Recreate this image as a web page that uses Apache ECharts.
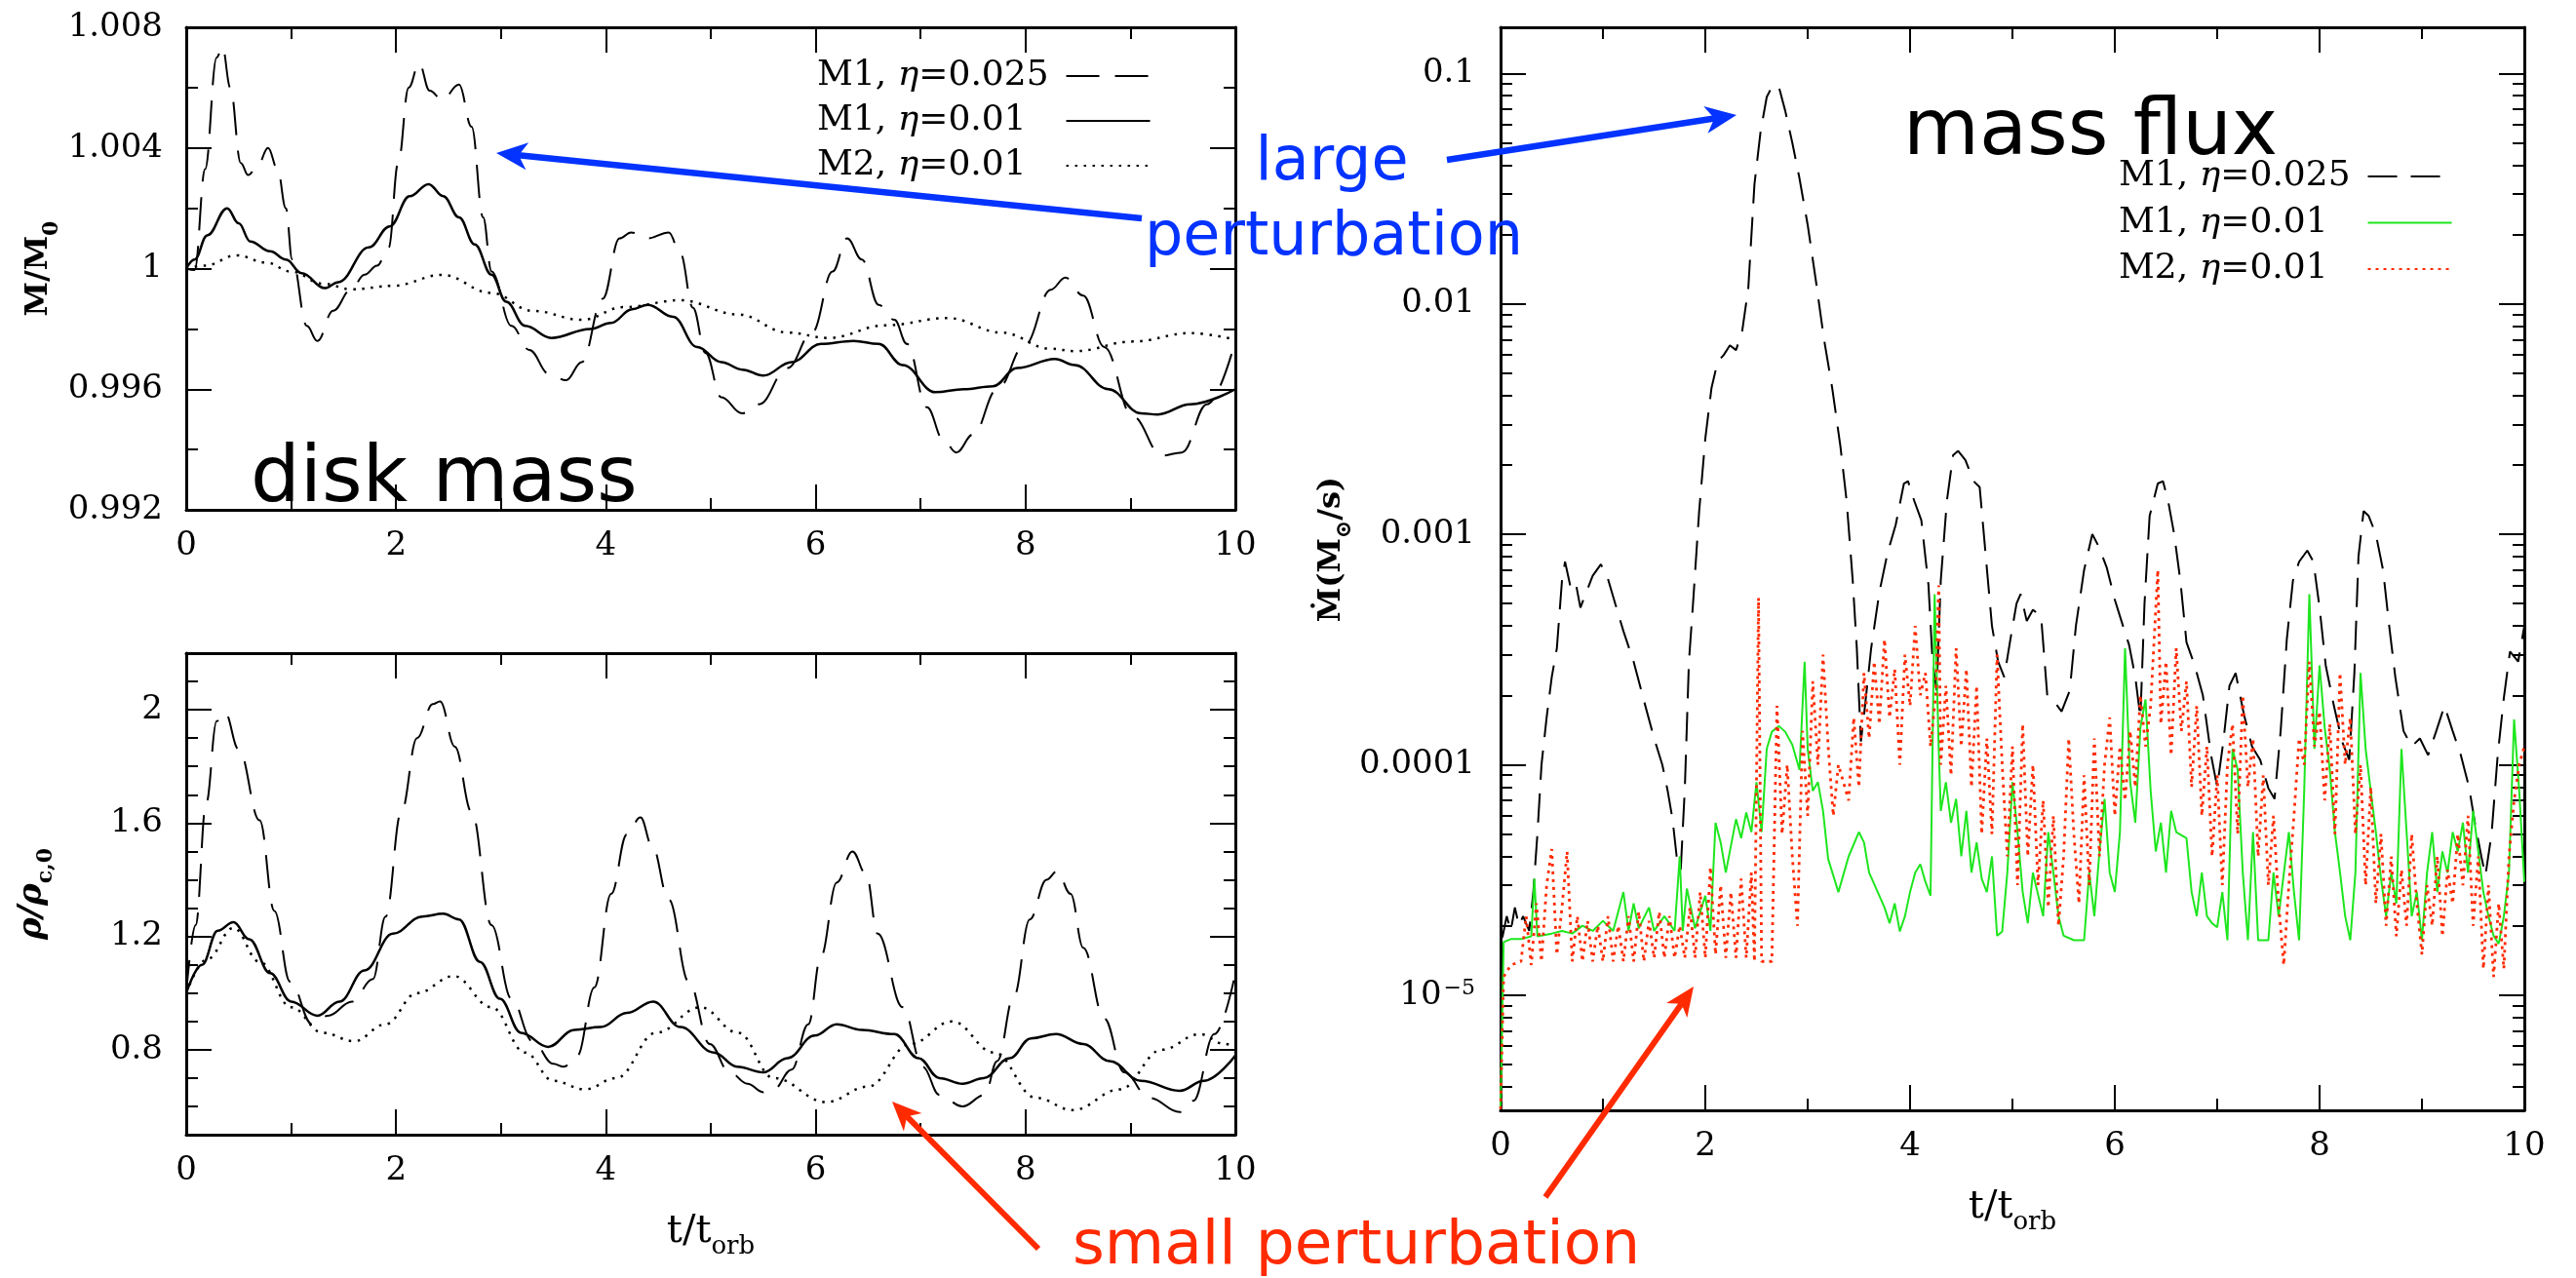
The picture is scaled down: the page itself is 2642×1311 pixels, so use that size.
<!DOCTYPE html>
<html>
<head>
<meta charset="utf-8">
<script src="https://cdn.jsdelivr.net/npm/echarts@6/dist/echarts.min.js"></script>
<style>
  html, body { margin: 0; padding: 0; background: #fff; }
  #chart { width: 2642px; height: 1311px; }
</style>
</head>
<body>
<div id="chart"></div>
<script>
// ---- tick positions and labels ----
const timeTickVals = [0, 2, 4, 6, 8, 10];
const timeTickLabels = ['0', '2', '4', '6', '8', '10'];
const massTickVals = [0.992, 0.996, 1, 1.004, 1.008];
const massTickLabels = ['0.992', '0.996', '1', '1.004', '1.008'];
const rhoTickVals = [0.8, 1.2, 1.6, 2];
const rhoTickLabels = ['0.8', '1.2', '1.6', '2'];
const fluxTickVals = [1e-5, 1e-4, 1e-3, 1e-2, 1e-1];
const fluxTickLabels = ['{m|10}{sup|\u22125}', '0.0001', '0.001', '0.01', '0.1'];
const fluxMinorVals = [4e-6, 5e-6, 6e-6, 7e-6, 8e-6, 9e-6,
  2e-5, 3e-5, 4e-5, 5e-5, 6e-5, 7e-5, 8e-5, 9e-5,
  2e-4, 3e-4, 4e-4, 5e-4, 6e-4, 7e-4, 8e-4, 9e-4,
  2e-3, 3e-3, 4e-3, 5e-3, 6e-3, 7e-3, 8e-3, 9e-3,
  2e-2, 3e-2, 4e-2, 5e-2, 6e-2, 7e-2, 8e-2, 9e-2];
const legendLabels = ['M1, \u03b7=0.025', 'M1, \u03b7=0.01', 'M2, \u03b7=0.01'];

// ---- disk mass M/M0 vs t/t_orb ----
const massM1a = [[0,1.0000],[0.08,0.99995],[0.18,1.0033],[0.29,1.0070],[0.345,1.00735],[0.42,1.0060],[0.52,1.0035],[0.59,1.0031],[0.68,1.0034],[0.78,1.0040],[0.87,1.0033],[0.95,1.0020],[1.01,1.0003],[1.15,0.9981],[1.25,0.9976],[1.4,0.9986],[1.57,0.9993],[1.7,0.9998],[1.82,1.0001],[1.93,1.0007],[2.02,1.0035],[2.12,1.0060],[2.22,1.0068],[2.32,1.0059],[2.44,1.0056],[2.6,1.0061],[2.72,1.0047],[2.83,1.0017],[2.91,0.9999],[3.1,0.9981],[3.27,0.9973],[3.46,0.9965],[3.62,0.9963],[3.77,0.9969],[3.97,0.9990],[4.13,1.0010],[4.24,1.0012],[4.4,1.0010],[4.6,1.0012],[4.71,1.0005],[4.83,0.9987],[4.95,0.9972],[5.1,0.99573],[5.3,0.9952],[5.46,0.9955],[5.73,0.9967],[5.97,0.9979],[6.16,0.9999],[6.3,1.0010],[6.44,1.0003],[6.6,0.9988],[6.75,0.9983],[6.87,0.9975],[7.06,0.9954],[7.22,0.9943],[7.34,0.9939],[7.5,0.9945],[7.73,0.9960],[8.0,0.9975],[8.24,0.9993],[8.38,0.9997],[8.55,0.9991],[8.75,0.9974],[9.02,0.9951],[9.3,0.9938],[9.49,0.9939],[9.73,0.9955],[10,0.9976]];
const massM1b = [[0,1.0000],[0.08,1.0003],[0.2,1.0011],[0.39,1.0020],[0.5,1.0015],[0.61,1.0009],[0.8,1.00057],[0.95,1.0003],[1.1,0.99985],[1.32,0.99935],[1.45,0.99955],[1.74,1.0007],[1.94,1.0014],[2.13,1.0024],[2.31,1.0028],[2.45,1.0024],[2.6,1.0017],[2.75,1.0008],[2.91,0.9998],[3.05,0.9989],[3.23,0.9981],[3.48,0.9977],[3.85,0.9980],[4.05,0.9982],[4.25,0.99865],[4.4,0.9988],[4.64,0.9984],[4.87,0.9974],[5.1,0.9969],[5.3,0.99665],[5.5,0.99645],[5.77,0.9969],[6.05,0.9975],[6.36,0.9976],[6.6,0.9975],[6.83,0.9968],[7.14,0.9959],[7.41,0.9960],[7.69,0.9961],[7.92,0.9967],[8.28,0.9970],[8.47,0.9968],[8.79,0.9960],[9.1,0.9952],[9.26,0.99516],[9.57,0.9955],[10,0.9960]];
const massM2 = [[0,1.0000],[0.18,1.0001],[0.48,1.00044],[0.76,1.0002],[1.0,0.9999],[1.3,0.9995],[1.58,0.99931],[1.97,0.99943],[2.44,0.99979],[2.91,0.99919],[3.3,0.9986],[3.77,0.9983],[4.17,0.99872],[4.71,0.99895],[5.26,0.99848],[5.73,0.99788],[6.12,0.9977],[6.67,0.99812],[7.26,0.99836],[7.77,0.99788],[8.24,0.99734],[8.47,0.99726],[9.02,0.99758],[9.57,0.99786],[10,0.99764]];

// ---- central density rho/rho_c,0 vs t/t_orb ----
const rhoM1a = [[0,1.0],[0.09,1.24],[0.19,1.67],[0.29,1.96],[0.37,1.99],[0.5,1.86],[0.7,1.61],[0.84,1.29],[0.99,1.04],[1.2,0.89],[1.35,0.92],[1.58,0.97],[1.78,1.05],[1.9,1.27],[2.05,1.64],[2.2,1.9],[2.35,2.02],[2.42,2.03],[2.56,1.87],[2.72,1.64],[2.91,1.24],[3.1,0.98],[3.3,0.83],[3.5,0.75],[3.6,0.74],[3.73,0.78],[3.89,1.02],[4.05,1.35],[4.2,1.56],[4.33,1.62],[4.44,1.52],[4.6,1.33],[4.79,1.04],[4.99,0.82],[5.18,0.72],[5.35,0.68],[5.5,0.65],[5.6,0.66],[5.77,0.73],[5.93,0.89],[6.05,1.13],[6.2,1.39],[6.35,1.5],[6.48,1.42],[6.59,1.21],[6.83,0.95],[7.02,0.74],[7.18,0.64],[7.4,0.6],[7.61,0.64],[7.73,0.76],[7.89,0.99],[8.04,1.26],[8.2,1.4],[8.3,1.43],[8.43,1.35],[8.55,1.16],[8.75,0.91],[8.94,0.72],[9.18,0.63],[9.47,0.58],[9.6,0.62],[9.8,0.855],[10,1.07]];
const rhoM1b = [[0,1.0],[0.15,1.1],[0.3,1.22],[0.45,1.25],[0.6,1.19],[0.8,1.07],[1.0,0.97],[1.25,0.92],[1.46,0.97],[1.7,1.08],[1.97,1.21],[2.25,1.27],[2.45,1.28],[2.6,1.26],[2.8,1.11],[2.99,0.98],[3.19,0.86],[3.45,0.81],[3.7,0.87],[3.95,0.88],[4.2,0.93],[4.45,0.97],[4.71,0.88],[5.03,0.79],[5.25,0.74],[5.5,0.72],[5.73,0.77],[5.99,0.85],[6.2,0.89],[6.44,0.87],[6.75,0.855],[6.98,0.77],[7.18,0.7],[7.4,0.68],[7.6,0.7],[7.85,0.77],[8.05,0.84],[8.29,0.855],[8.55,0.82],[8.8,0.76],[9.1,0.69],[9.47,0.655],[9.7,0.69],[10,0.78]];
const rhoM2 = [[0,1.0],[0.2,1.12],[0.45,1.23],[0.7,1.11],[1.0,0.95],[1.3,0.86],[1.6,0.83],[1.9,0.89],[2.2,1.0],[2.55,1.06],[2.91,0.95],[3.23,0.79],[3.5,0.69],[3.8,0.66],[4.1,0.7],[4.48,0.86],[4.9,0.95],[5.26,0.86],[5.6,0.7],[6.1,0.615],[6.5,0.67],[6.9,0.82],[7.3,0.9],[7.7,0.79],[8.1,0.63],[8.45,0.587],[8.9,0.66],[9.3,0.8],[9.66,0.855],[9.9,0.82],[10,0.81]];

// ---- mass flux (M_sun/s) vs t/t_orb ----
const fluxM1a = [[0,3.2e-6],[0.02,1.8e-5],[0.06,2.2e-5],[0.1,1.9e-5],[0.14,2.4e-5],[0.18,2.0e-5],[0.22,2.2e-5],[0.28,1.9e-5],[0.32,2.8e-5],[0.36,5e-5],[0.4,1e-4],[0.45,1.6e-4],[0.5,2.4e-4],[0.55,3.2e-4],[0.6,6.3e-4],[0.63,7.6e-4],[0.68,6e-4],[0.73,6.3e-4],[0.78,4.8e-4],[0.83,5.5e-4],[0.9,6.6e-4],[0.98,7.4e-4],[1.04,6.6e-4],[1.12,5e-4],[1.2,3.8e-4],[1.3,2.8e-4],[1.4,1.9e-4],[1.5,1.3e-4],[1.58,1e-4],[1.63,7.8e-5],[1.68,5.8e-5],[1.72,4e-5],[1.76,3.5e-5],[1.8,7.9e-5],[1.84,2.8e-4],[1.88,5e-4],[1.94,1.26e-3],[2.0,2.6e-3],[2.06,4.3e-3],[2.12,5.6e-3],[2.18,6e-3],[2.24,6.6e-3],[2.3,6.3e-3],[2.36,7.6e-3],[2.42,0.0117],[2.48,0.033],[2.54,0.056],[2.6,0.079],[2.66,0.089],[2.72,0.087],[2.78,0.069],[2.85,0.05],[2.92,0.035],[3.0,0.022],[3.08,0.0126],[3.16,7e-3],[3.24,4.3e-3],[3.32,2.4e-3],[3.38,1.4e-3],[3.44,6.3e-4],[3.48,3.2e-4],[3.52,1.26e-4],[3.56,1.8e-4],[3.62,3.2e-4],[3.7,5.6e-4],[3.78,8.3e-4],[3.86,1.1e-3],[3.94,1.66e-3],[3.98,1.7e-3],[4.04,1.4e-3],[4.11,1.15e-3],[4.18,6e-4],[4.22,2.8e-4],[4.26,2.1e-4],[4.3,6.3e-4],[4.36,1.4e-3],[4.42,2.2e-3],[4.47,2.3e-3],[4.54,2.1e-3],[4.62,1.7e-3],[4.68,1.6e-3],[4.74,8e-4],[4.8,4e-4],[4.86,2.8e-4],[4.92,2.4e-4],[4.98,3.5e-4],[5.04,5e-4],[5.08,5.5e-4],[5.14,4.2e-4],[5.2,4.7e-4],[5.28,4.4e-4],[5.34,2e-4],[5.4,1.9e-4],[5.48,1.7e-4],[5.56,2.1e-4],[5.62,4e-4],[5.7,7e-4],[5.78,1e-3],[5.84,8.9e-4],[5.92,7.2e-4],[6.0,5.2e-4],[6.08,4e-4],[6.14,3.3e-4],[6.2,2.4e-4],[6.25,1.6e-4],[6.29,5e-4],[6.34,1.2e-3],[6.42,1.66e-3],[6.47,1.7e-3],[6.52,1.4e-3],[6.58,1e-3],[6.64,6.3e-4],[6.7,3.4e-4],[6.78,2.7e-4],[6.86,2e-4],[6.94,1.1e-4],[7.0,8e-5],[7.06,1.26e-4],[7.12,2.2e-4],[7.18,2.5e-4],[7.26,1.66e-4],[7.34,1.2e-4],[7.42,1.05e-4],[7.5,7.9e-5],[7.56,7.1e-5],[7.62,1.4e-4],[7.68,3.5e-4],[7.74,6.3e-4],[7.8,7.6e-4],[7.88,8.5e-4],[7.94,7.6e-4],[8.0,4.8e-4],[8.06,2.7e-4],[8.14,1.8e-4],[8.22,1.26e-4],[8.29,1.05e-4],[8.34,2.5e-4],[8.38,8e-4],[8.43,1.26e-3],[8.48,1.2e-3],[8.55,1e-3],[8.62,7e-4],[8.68,4e-4],[8.74,2.4e-4],[8.82,1.4e-4],[8.9,1.2e-4],[8.98,1.3e-4],[9.06,1.1e-4],[9.14,1.4e-4],[9.22,1.8e-4],[9.3,1.4e-4],[9.38,1.1e-4],[9.46,8e-5],[9.52,5.5e-5],[9.58,4e-5],[9.62,3.3e-5],[9.68,5e-5],[9.74,1.1e-4],[9.8,1.95e-4],[9.86,3.1e-4],[9.94,2.8e-4],[10,4e-4]];
const fluxM1b = [[0,3.2e-6],[0.03,1.7e-5],[0.1,1.75e-5],[0.2,1.75e-5],[0.3,1.8e-5],[0.33,3.2e-5],[0.36,1.8e-5],[0.5,1.85e-5],[0.6,1.9e-5],[0.7,1.85e-5],[0.8,2.0e-5],[0.9,1.9e-5],[1.0,2.1e-5],[1.1,1.9e-5],[1.2,2.8e-5],[1.25,1.9e-5],[1.3,2.5e-5],[1.35,1.95e-5],[1.45,2.4e-5],[1.5,1.9e-5],[1.6,2.2e-5],[1.7,1.9e-5],[1.75,4.0e-5],[1.78,1.9e-5],[1.82,2.9e-5],[1.9,1.95e-5],[2.0,2.7e-5],[2.05,1.9e-5],[2.1,5.6e-5],[2.15,4.6e-5],[2.2,3.4e-5],[2.3,5.8e-5],[2.35,4.8e-5],[2.4,6.2e-5],[2.45,5.1e-5],[2.5,8.4e-5],[2.55,5.1e-5],[2.6,1.17e-4],[2.65,1.39e-4],[2.72,1.47e-4],[2.78,1.39e-4],[2.85,1.22e-4],[2.92,9.5e-5],[2.97,2.8e-4],[3.0,1.17e-4],[3.05,7.7e-5],[3.1,8.4e-5],[3.15,6.3e-5],[3.2,3.9e-5],[3.3,2.8e-5],[3.4,4.0e-5],[3.5,5.1e-5],[3.55,4.6e-5],[3.6,3.4e-5],[3.7,2.7e-5],[3.75,2.4e-5],[3.8,2.05e-5],[3.85,2.5e-5],[3.9,1.89e-5],[3.95,2.2e-5],[4.0,2.8e-5],[4.05,3.4e-5],[4.1,3.7e-5],[4.15,3.1e-5],[4.2,2.7e-5],[4.24,5.5e-4],[4.28,1.17e-4],[4.3,6.3e-5],[4.35,8.4e-5],[4.4,5.6e-5],[4.45,7.1e-5],[4.5,4.0e-5],[4.55,6.3e-5],[4.6,3.4e-5],[4.65,4.6e-5],[4.7,3.2e-5],[4.75,2.8e-5],[4.8,4.0e-5],[4.85,1.81e-5],[4.9,1.89e-5],[4.95,3.4e-5],[5.0,8.4e-5],[5.05,5.1e-5],[5.1,2.8e-5],[5.15,2.05e-5],[5.2,3.4e-5],[5.3,2.2e-5],[5.35,5.1e-5],[5.4,3.4e-5],[5.45,2.2e-5],[5.5,1.81e-5],[5.6,1.73e-5],[5.7,1.73e-5],[5.75,3.4e-5],[5.8,2.2e-5],[5.85,4.2e-5],[5.9,7.1e-5],[5.95,3.4e-5],[6.0,2.8e-5],[6.05,5.1e-5],[6.1,3.2e-4],[6.15,8.4e-5],[6.2,5.6e-5],[6.25,1.45e-4],[6.3,1.92e-4],[6.35,7.7e-5],[6.4,4.2e-5],[6.45,5.6e-5],[6.5,3.4e-5],[6.55,6.3e-5],[6.6,5.1e-5],[6.7,4.8e-5],[6.75,2.8e-5],[6.8,2.2e-5],[6.85,3.4e-5],[6.9,2.2e-5],[6.95,2.05e-5],[7.0,1.97e-5],[7.05,2.8e-5],[7.1,1.73e-5],[7.15,1.17e-4],[7.2,9.5e-5],[7.25,3.4e-5],[7.3,1.73e-5],[7.35,5.1e-5],[7.4,1.73e-5],[7.5,1.73e-5],[7.55,3.4e-5],[7.6,2.2e-5],[7.7,5.1e-5],[7.75,2.8e-5],[7.8,1.73e-5],[7.85,7.7e-5],[7.9,5.5e-4],[7.95,1.17e-4],[8.0,2.7e-4],[8.05,1.45e-4],[8.1,9.5e-5],[8.15,5.1e-5],[8.2,3.4e-5],[8.25,2.2e-5],[8.3,1.73e-5],[8.35,3.4e-5],[8.4,2.5e-4],[8.45,1.17e-4],[8.5,7.7e-5],[8.55,5.1e-5],[8.6,3.2e-5],[8.65,2.2e-5],[8.7,3.4e-5],[8.75,2.5e-5],[8.8,1.17e-4],[8.85,5.1e-5],[8.9,2.2e-5],[8.95,2.8e-5],[9.0,1.73e-5],[9.05,3.4e-5],[9.1,5.1e-5],[9.15,2.8e-5],[9.2,4.2e-5],[9.25,3.4e-5],[9.3,5.1e-5],[9.35,4.2e-5],[9.4,5.6e-5],[9.45,3.4e-5],[9.5,6.3e-5],[9.55,4.2e-5],[9.6,2.8e-5],[9.65,2.2e-5],[9.7,1.81e-5],[9.75,1.67e-5],[9.8,2.2e-5],[9.85,3.4e-5],[9.9,1.57e-4],[9.95,7.7e-5],[10,3.1e-5]];
const fluxM2 = [[0,3.2e-6],[0.03,1.2e-5],[0.1,1.35e-5],[0.2,1.4e-5],[0.25,2.2e-5],[0.3,1.35e-5],[0.35,2.5e-5],[0.4,1.4e-5],[0.45,3.0e-5],[0.5,4.3e-5],[0.55,1.5e-5],[0.6,2.4e-5],[0.65,4.2e-5],[0.7,1.4e-5],[0.75,2.2e-5],[0.8,1.4e-5],[0.85,2.1e-5],[0.9,1.4e-5],[0.95,2.0e-5],[1.0,1.4e-5],[1.05,2.2e-5],[1.1,1.4e-5],[1.15,2.0e-5],[1.2,1.4e-5],[1.25,2.2e-5],[1.3,1.4e-5],[1.35,2.3e-5],[1.4,1.4e-5],[1.45,2.1e-5],[1.5,1.45e-5],[1.55,2.3e-5],[1.6,1.45e-5],[1.65,2.2e-5],[1.7,1.45e-5],[1.75,2.0e-5],[1.8,1.45e-5],[1.85,2.4e-5],[1.9,1.45e-5],[1.95,2.8e-5],[2.0,1.45e-5],[2.05,3.6e-5],[2.1,1.5e-5],[2.15,3.0e-5],[2.2,1.45e-5],[2.25,2.8e-5],[2.3,1.45e-5],[2.35,3.2e-5],[2.4,1.45e-5],[2.45,3.4e-5],[2.48,1.4e-5],[2.52,5.3e-4],[2.55,1.4e-5],[2.65,1.4e-5],[2.7,1.8e-4],[2.75,5e-5],[2.8,1.0e-4],[2.85,4e-5],[2.9,2e-5],[2.95,1.4e-4],[3.0,6e-5],[3.05,2.3e-4],[3.1,1.0e-4],[3.15,3.0e-4],[3.2,1.2e-4],[3.25,6e-5],[3.3,1.0e-4],[3.4,7e-5],[3.45,1.6e-4],[3.5,8e-5],[3.55,2.5e-4],[3.6,1.3e-4],[3.65,2.8e-4],[3.7,1.5e-4],[3.75,3.5e-4],[3.8,1.6e-4],[3.85,2.6e-4],[3.9,1.0e-4],[3.95,3.0e-4],[4.0,1.8e-4],[4.05,4.0e-4],[4.1,2.0e-4],[4.15,2.5e-4],[4.2,1.2e-4],[4.25,2.0e-4],[4.28,6e-4],[4.3,1.0e-4],[4.35,2.2e-4],[4.4,9e-5],[4.45,3.2e-4],[4.5,1.2e-4],[4.55,2.6e-4],[4.6,8e-5],[4.65,2.2e-4],[4.7,5e-5],[4.75,1.3e-4],[4.8,5e-5],[4.85,3.0e-4],[4.9,1.0e-4],[4.95,4.0e-5],[5.0,1.2e-4],[5.05,3e-5],[5.1,1.5e-4],[5.15,4e-5],[5.2,1.0e-4],[5.25,3e-5],[5.3,7e-5],[5.35,2.4e-5],[5.4,6e-5],[5.45,2e-5],[5.5,4e-5],[5.55,1.3e-4],[5.6,5e-5],[5.65,2.5e-5],[5.7,9e-5],[5.75,3e-5],[5.8,1.3e-4],[5.85,4e-5],[5.9,1.0e-4],[5.95,1.6e-4],[6.0,6e-5],[6.05,1.2e-4],[6.1,7e-5],[6.15,1.4e-4],[6.2,8e-5],[6.25,2.0e-4],[6.3,1.2e-4],[6.35,1.8e-4],[6.42,7e-4],[6.45,1.5e-4],[6.5,2.8e-4],[6.55,1.1e-4],[6.6,3.2e-4],[6.65,1.4e-4],[6.7,2.3e-4],[6.75,8e-5],[6.8,1.8e-4],[6.85,6e-5],[6.9,1.2e-4],[6.95,4e-5],[7.0,9e-5],[7.05,3e-5],[7.1,1.0e-4],[7.15,1.5e-4],[7.2,5e-5],[7.25,2e-4],[7.3,8e-5],[7.35,1.3e-4],[7.4,4e-5],[7.45,9e-5],[7.5,3e-5],[7.55,6e-5],[7.6,2.5e-5],[7.65,1.35e-5],[7.7,3e-5],[7.75,6e-5],[7.8,1.3e-4],[7.85,1e-4],[7.9,2.8e-4],[7.95,1.2e-4],[8.0,1.7e-4],[8.05,7e-5],[8.1,1.5e-4],[8.15,5e-5],[8.2,2.5e-4],[8.25,1.0e-4],[8.3,1.6e-4],[8.35,5e-5],[8.4,1.0e-4],[8.45,3e-5],[8.5,8e-5],[8.55,2.5e-5],[8.6,5e-5],[8.65,2e-5],[8.7,4e-5],[8.75,1.8e-5],[8.8,3.5e-5],[8.85,2e-5],[8.9,5e-5],[8.95,2.5e-5],[9.0,1.5e-5],[9.05,3e-5],[9.1,2e-5],[9.15,4e-5],[9.2,1.8e-5],[9.25,3.5e-5],[9.3,2.5e-5],[9.35,5e-5],[9.4,3e-5],[9.45,6e-5],[9.5,2e-5],[9.55,4e-5],[9.6,1.3e-5],[9.65,3e-5],[9.7,1.2e-5],[9.75,2.5e-5],[9.8,1.3e-5],[9.85,4e-5],[9.9,7e-5],[9.95,1.0e-4],[10,1.2e-4]];

// ---- styling ----
const INK = '#000';
const SERIF = 'DejaVu Serif';
const SANS = 'DejaVu Sans';
const BLUE = '#0433ff';
const RED = '#ff2a00';
const GREEN = '#1ee61e';

function pickLabel(vals, labels) {
  return function (v) {
    for (let i = 0; i < vals.length; i++) {
      if (Math.abs(v - vals[i]) <= Math.abs(vals[i]) * 1e-6 + 1e-12) return labels[i];
    }
    return '';
  };
}

const tickLabelStyle = { color: INK, fontFamily: SERIF, fontSize: 34 };

function frameAxis(opts) {
  return Object.assign({
    type: 'value',
    axisLine: { show: true, onZero: false, lineStyle: { color: INK, width: 3 } },
    axisTick: { show: true, inside: true, length: 26, lineStyle: { color: INK, width: 2 } },
    minorTick: { show: false },
    axisLabel: { show: false },
    splitLine: { show: false },
    minorSplitLine: { show: false }
  }, opts);
}

function timeAxes(grid, withTitle) {
  const minor = { show: true, splitNumber: 2, length: 12, lineStyle: { color: INK, width: 2 } };
  const bottom = frameAxis({
    gridIndex: grid, position: 'bottom', min: 0, max: 10, interval: 2, minorTick: minor,
    axisLabel: Object.assign({ show: true, margin: 20, formatter: pickLabel(timeTickVals, timeTickLabels) }, tickLabelStyle)
  });
  if (withTitle) {
    Object.assign(bottom, {
      name: '{a|t/t}{s|orb}', nameLocation: 'middle', nameGap: 80,
      nameTextStyle: {
        rich: {
          a: { fontFamily: SERIF, fontSize: 40, color: INK, padding: [0, 0, 8, 0], verticalAlign: 'bottom' },
          s: { fontFamily: SERIF, fontSize: 26, color: INK, verticalAlign: 'bottom' }
        }
      }
    });
  }
  const top = frameAxis({ gridIndex: grid, position: 'top', min: 0, max: 10, interval: 2, minorTick: minor });
  return [bottom, top];
}

const yTitleRich = {
  a: { fontFamily: SERIF, fontWeight: 'bold', fontSize: 32, color: INK, padding: [0, 0, 8, 0], verticalAlign: 'bottom' },
  i: { fontFamily: SERIF, fontWeight: 'bold', fontStyle: 'italic', fontSize: 34, color: INK, padding: [0, 0, 8, 0], verticalAlign: 'bottom' },
  s: { fontFamily: SERIF, fontWeight: 'bold', fontSize: 22, color: INK, verticalAlign: 'bottom' }
};

const yMinor = { show: true, splitNumber: 2, length: 12, lineStyle: { color: INK, width: 2 } };

const yAxes = [
  // disk mass
  frameAxis({
    gridIndex: 0, position: 'left', min: 0.992, max: 1.008, interval: 0.004, minorTick: yMinor,
    axisLabel: Object.assign({ show: true, margin: 24, formatter: pickLabel(massTickVals, massTickLabels) }, tickLabelStyle),
    name: '{a|M/M}{s|0}', nameLocation: 'middle', nameRotate: 90, nameGap: 127,
    nameTextStyle: { rich: yTitleRich }
  }),
  frameAxis({ gridIndex: 0, position: 'right', min: 0.992, max: 1.008, interval: 0.004, minorTick: yMinor }),
  // central density: labelled ticks
  frameAxis({
    gridIndex: 1, position: 'left', min: 0.5, max: 2.2,
    axisTick: { show: true, inside: true, length: 26, customValues: rhoTickVals, lineStyle: { color: INK, width: 2 } },
    axisLabel: Object.assign({ show: true, margin: 24, customValues: rhoTickVals, formatter: pickLabel(rhoTickVals, rhoTickLabels) }, tickLabelStyle),
    name: '{i|\u03c1/\u03c1}{s|c,0}', nameLocation: 'middle', nameRotate: 90, nameGap: 133,
    nameTextStyle: { rich: yTitleRich }
  }),
  frameAxis({
    gridIndex: 1, position: 'right', min: 0.5, max: 2.2,
    axisTick: { show: true, inside: true, length: 26, customValues: rhoTickVals, lineStyle: { color: INK, width: 2 } }
  }),
  // central density: every 0.1
  frameAxis({
    gridIndex: 1, position: 'left', min: 0.5, max: 2.2, interval: 0.1,
    axisLine: { show: false, onZero: false },
    axisTick: { show: true, inside: true, length: 12, lineStyle: { color: INK, width: 2 } }
  }),
  frameAxis({
    gridIndex: 1, position: 'right', min: 0.5, max: 2.2, interval: 0.1,
    axisLine: { show: false, onZero: false },
    axisTick: { show: true, inside: true, length: 12, lineStyle: { color: INK, width: 2 } }
  }),
  // mass flux, logarithmic: decades
  frameAxis({
    type: 'log', logBase: 10, gridIndex: 2, position: 'left', min: Math.pow(10, -5.5), max: Math.pow(10, -0.8),
    axisTick: { show: true, inside: true, length: 26, customValues: fluxTickVals, lineStyle: { color: INK, width: 2 } },
    axisLabel: Object.assign({
      show: true, margin: 26, customValues: fluxTickVals, formatter: pickLabel(fluxTickVals, fluxTickLabels),
      rich: {
        m: { fontFamily: SERIF, fontSize: 34, color: INK },
        sup: { fontFamily: SERIF, fontSize: 22, color: INK, verticalAlign: 'top', padding: [0, 0, 14, 2] }
      }
    }, tickLabelStyle),
    name: '{a|M\u0307(M}{s|\u2299}{a|/s)}', nameLocation: 'middle', nameRotate: 90, nameGap: 123,
    nameTextStyle: { rich: yTitleRich, padding: [0, 0, 0, 40] }
  }),
  frameAxis({
    type: 'log', logBase: 10, gridIndex: 2, position: 'right', min: Math.pow(10, -5.5), max: Math.pow(10, -0.8),
    axisTick: { show: true, inside: true, length: 26, customValues: fluxTickVals, lineStyle: { color: INK, width: 2 } }
  }),
  // mass flux, logarithmic: 2..9 within each decade
  frameAxis({
    type: 'log', logBase: 10, gridIndex: 2, position: 'left', min: Math.pow(10, -5.5), max: Math.pow(10, -0.8),
    axisLine: { show: false, onZero: false },
    axisTick: { show: true, inside: true, length: 12, customValues: fluxMinorVals, lineStyle: { color: INK, width: 2 } }
  }),
  frameAxis({
    type: 'log', logBase: 10, gridIndex: 2, position: 'right', min: Math.pow(10, -5.5), max: Math.pow(10, -0.8),
    axisLine: { show: false, onZero: false },
    axisTick: { show: true, inside: true, length: 12, customValues: fluxMinorVals, lineStyle: { color: INK, width: 2 } }
  })
];

const xAxes = [].concat(timeAxes(0, false), timeAxes(1, true), timeAxes(2, true));

const dashed = { color: INK, width: 2, type: [34, 16] };
const solid = { color: INK, width: 2.5, type: 'solid' };
const dotted = { color: INK, width: 2.5, type: [2.5, 6.5] };

function lineSeries(name, data, xi, yi, style, smooth) {
  return {
    name: name, type: 'line', data: data, xAxisIndex: xi, yAxisIndex: yi,
    symbol: 'none', smooth: smooth, smoothMonotone: 'x', lineStyle: style,
    itemStyle: { color: style.color }, silent: true, animation: false
  };
}

const series = [
  lineSeries('mass-M1-0.025', massM1a, 0, 0, dashed, 0.4),
  lineSeries('mass-M1-0.01', massM1b, 0, 0, solid, 0.4),
  lineSeries('mass-M2-0.01', massM2, 0, 0, dotted, 0.4),
  lineSeries('rho-M1-0.025', rhoM1a, 2, 2, dashed, 0.4),
  lineSeries('rho-M1-0.01', rhoM1b, 2, 2, solid, 0.4),
  lineSeries('rho-M2-0.01', rhoM2, 2, 2, dotted, 0.4),
  lineSeries('flux-M1-0.025', fluxM1a, 4, 6, { color: INK, width: 2, type: [30, 14] }, false),
  lineSeries('flux-M1-0.01', fluxM1b, 4, 6, { color: GREEN, width: 2, type: 'solid' }, false),
  lineSeries('flux-M2-0.01', fluxM2, 4, 6, { color: RED, width: 2.8, type: [3, 5] }, false)
];

// legend text: left-aligned text with the line sample to its right
const padAfter = [13, 36, 36];
function legendText(idx) {
  const parts = legendLabels[idx].split('\u03b7');
  return '{a|' + parts[0] + '}{e|\u03b7}{a|' + parts[1] + '}{p| }';
}
function makeLegend(names, left, top, gap, pads) {
  const rich = {
    a: { fontFamily: SERIF, fontSize: 36, color: INK, lineHeight: 46 },
    e: { fontFamily: SERIF, fontStyle: 'italic', fontSize: 36, color: INK, lineHeight: 46 }
  };
  return {
    orient: 'vertical', left: left, top: top, align: 'right', padding: 0,
    itemWidth: 86, itemHeight: 14, itemGap: gap, selectedMode: false,
    data: names,
    itemStyle: { opacity: 0, borderWidth: 0 },
    formatter: function (name) {
      const idx = names.indexOf(name);
      return legendText(idx).replace('{p| }', '{p' + idx + '| }');
    },
    textStyle: {
      fontFamily: SERIF, fontSize: 36, color: INK, lineHeight: 46,
      rich: Object.assign(rich, {
        p0: { width: pads[0], lineHeight: 46 },
        p1: { width: pads[1], lineHeight: 46 },
        p2: { width: pads[2], lineHeight: 46 }
      })
    }
  };
}

function arrow(x1, y1, x2, y2, color, w, headLen, headW) {
  const ang = Math.atan2(y2 - y1, x2 - x1);
  const c = Math.cos(ang), s = Math.sin(ang);
  const bx = x2 - headLen * c, by = y2 - headLen * s;
  const nx = x2 - headLen * 0.72 * c, ny = y2 - headLen * 0.72 * s;
  const px = -s * headW / 2, py = c * headW / 2;
  return [
    { type: 'line', z: 100, shape: { x1: x1, y1: y1, x2: nx, y2: ny }, style: { stroke: color, lineWidth: w } },
    { type: 'polygon', z: 100, shape: { points: [[x2, y2], [bx + px, by + py], [nx, ny], [bx - px, by - py]] }, style: { fill: color } }
  ];
}

function note(text, x, y, size, color, align) {
  return {
    type: 'text', z: 100, x: x, y: y,
    style: { text: text, fontFamily: SANS, fontSize: size, fill: color, align: align, verticalAlign: 'middle' }
  };
}

const graphics = [].concat(
  note('disk mass', 257, 493, 80, INK, 'left'),
  note('mass flux', 1952, 137, 80, INK, 'left'),
  note('large', 1366, 168, 62, BLUE, 'center'),
  note('perturbation', 1368, 245, 62, BLUE, 'center'),
  note('small perturbation', 1100, 1280, 63, RED, 'left'),
  arrow(1171, 224, 509, 157, BLUE, 6.5, 32, 28),
  arrow(1484, 164, 1781, 118, BLUE, 6.5, 32, 28),
  arrow(1065, 1281, 915, 1130, RED, 6, 30, 26),
  arrow(1585, 1228, 1737, 1012, RED, 6, 30, 26)
);

const chart = echarts.init(document.getElementById('chart'), null, { renderer: 'canvas', width: 2642, height: 1311 });
chart.setOption({
  animation: false,
  backgroundColor: '#fff',
  grid: [
    { left: 191, top: 28, width: 1076, height: 495 },
    { left: 191, top: 670, width: 1076, height: 494 },
    { left: 1539, top: 28, width: 1050, height: 1111 }
  ],
  xAxis: xAxes,
  yAxis: yAxes,
  legend: [
    makeLegend(['mass-M1-0.025', 'mass-M1-0.01', 'mass-M2-0.01'], 838, 55, 0, padAfter),
    makeLegend(['flux-M1-0.025', 'flux-M1-0.01', 'flux-M2-0.01'], 2173, 158, 1.5, padAfter)
  ],
  series: series,
  graphic: graphics
});
</script>
</body>
</html>
